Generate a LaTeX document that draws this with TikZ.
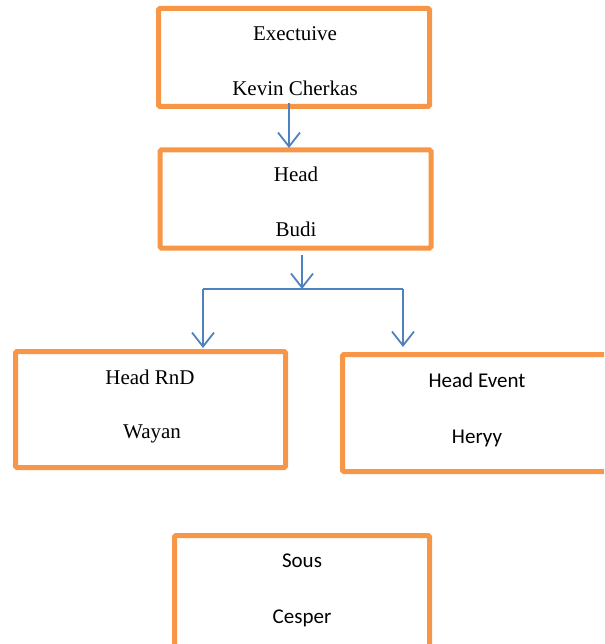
\documentclass[tikz,border=0pt]{standalone}
\usepackage{fontspec}
\setmainfont{Liberation Serif}
\newfontfamily\calfont{Carlito}
\usetikzlibrary{arrows.meta}
\definecolor{boxorange}{HTML}{F79646}
\definecolor{arrblue}{HTML}{4F81BD}
\begin{document}
\begin{tikzpicture}[x=1pt,y=-1pt,
  orgbox/.style={draw=boxorange,line width=5pt,rounded corners=1.5pt,inner sep=0pt,fill=none},
  lbl/.style={anchor=base,inner sep=0pt,font=\fontsize{21}{25}\selectfont},
  clbl/.style={anchor=base,inner sep=0pt,font=\calfont\fontsize{21}{25}\selectfont},
  conn/.style={draw=arrblue,line width=1.8pt},
  arr/.style={conn,-{Straight Barb[length=14pt,width=22pt,line width=1.8pt]}}]
\useasboundingbox (0,0) rectangle (604,644);
\clip (0,0) rectangle (604,644);
% boxes
\node[orgbox,minimum width=271pt,minimum height=98pt] (exec) at (294,57.5) {};
\node[orgbox,minimum width=271pt,minimum height=98pt] (head) at (295.5,199) {};
\node[orgbox,minimum width=270pt,minimum height=116pt] (rnd) at (150.5,409.5) {};
\node[orgbox,minimum width=271pt,minimum height=117pt] (event) at (478,413) {};
\node[orgbox,minimum width=255pt,minimum height=116pt] (sous) at (302,593.5) {};
% texts
\node[lbl] (t1) at (295,41) {Exectuive};
\node[lbl] (t2) at (295,96) {Kevin Cherkas};
\node[lbl] (t3) at (296,182) {Head};
\node[lbl] (t4) at (296,236) {Budi};
\node[lbl] (t5) at (150,384) {Head RnD};
\node[lbl] (t6) at (152,438) {Wayan};
\node[clbl] (t7) at (477,387) {Head Event};
\node[clbl] (t8) at (477,443) {Heryy};
\node[clbl] (t9) at (302,567) {Sous};
\node[clbl] (t10) at (302,623) {Cesper};
% connectors
\coordinate (a1s) at (289,103);
\coordinate (a1e) at (289,148);
\draw[arr] (a1s) -- (a1e);
\coordinate (a2s) at (302,255);
\coordinate (junc) at (302,289);
\coordinate (jl) at (203,289);
\coordinate (jr) at (403,289);
\coordinate (rl) at (203,348);
\coordinate (rr) at (403,347);
\draw[arr] (a2s) -- (junc);
\draw[conn] (jl) -- (jr);
\draw[arr] (jl) -- (rl);
\draw[arr] (jr) -- (rr);
\end{tikzpicture}
\end{document}
